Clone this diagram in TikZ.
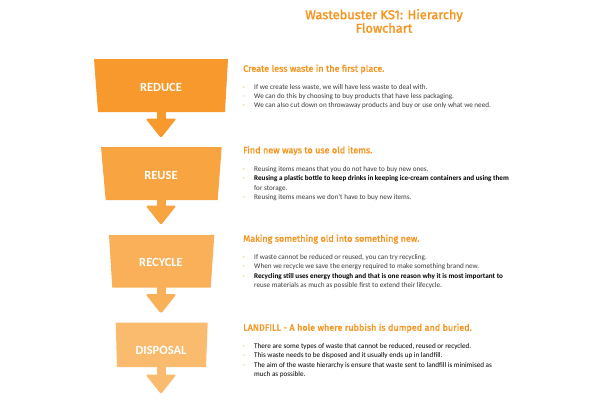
\documentclass[tikz,border=0pt]{standalone}
\usepackage{fontspec}
\setmainfont{Carlito}
\newfontfamily\headfont{Fira Sans}[FakeBold=1.5]
\definecolor{ttl}{HTML}{F7941D}
\definecolor{cA}{HTML}{F7992C}
\definecolor{cB}{HTML}{F8A441}
\definecolor{cC}{HTML}{F9B059}
\definecolor{cD}{HTML}{FABB6E}
\definecolor{txt}{HTML}{3A3A3A}
\tikzset{
  boxlabel/.style={text=white,font=\fontsize{12.5}{13}\selectfont\bfseries,inner sep=0pt},
  headline/.style={anchor=base west,inner sep=0pt,text=ttl,font=\headfont\fontsize{9.05}{10}\selectfont},
  bl/.style={anchor=base west,inner sep=0pt,text=txt,font=\fontsize{7.15}{8}\selectfont},
  bd/.style={anchor=base west,inner sep=0pt,text=ttl,font=\fontsize{7.15}{8}\selectfont},
  titletext/.style={inner sep=0pt,text=ttl,align=center,font=\headfont\fontsize{12.8}{13.5}\selectfont}
}
\newcommand\flowarrow[2]{%
  \fill[#1] (156.5,#2-1) rectangle (165.5,#2+8);
  \fill[#1,rounded corners=1.6pt] (145.5,#2+6.5) -- (176.5,#2+6.5) -- (161,#2+26) -- cycle;
}
\begin{document}
\begin{tikzpicture}[x=1pt,y=-1pt]
\useasboundingbox (0,0) rectangle (600,400);
\fill[white] (0,0) rectangle (600,400);
% title
\node[titletext] (title) at (384,21) {Wastebuster KS1: Hierarchy\\Flowchart};
% boxes
\fill[cA] (94,59) -- (228,59) -- (225,112) -- (98,112) -- cycle;
\flowarrow{cA}{112}
\fill[cB] (101,147) -- (221.7,147) -- (217.7,200) -- (105.7,200) -- cycle;
\flowarrow{cB}{199}
\fill[cC] (109,235) -- (214.3,235) -- (210.7,287.7) -- (112.3,287.7) -- cycle;
\flowarrow{cC}{287.7}
\fill[cD] (115.7,322.7) -- (207.7,322.7) -- (206,367) -- (117,367) -- cycle;
\flowarrow{cD}{368}
\node[boxlabel] (reduce) at (161,87) {REDUCE};
\node[boxlabel] (reuse) at (161,175) {REUSE};
\node[boxlabel] (recycle) at (161,262.5) {RECYCLE};
\node[boxlabel] (disposal) at (161,350.5) {DISPOSAL};
% section 1
\node[headline] (h1) at (243,71.7) {Create less waste in the first place.};
\node[bd] (d11) at (242.5,89) {-};
\node[bl] (t11) at (254,89) {If we create less waste, we will have less waste to deal with.};
\node[bd] (d12) at (242.5,98.3) {-};
\node[bl] (t12) at (254,98.3) {We can do this by choosing to buy products that have less packaging.};
\node[bd] (d13) at (242.5,107.7) {-};
\node[bl] (t13) at (254,107.7) {We can also cut down on throwaway products and buy or use only what we need.};
% section 2
\node[headline] (h2) at (243,153.3) {Find new ways to use old items.};
\node[bd] (d21) at (242.5,171.7) {-};
\node[bl] (t21) at (254,171.7) {Reusing items means that you do not have to buy new ones.};
\node[bd] (d22) at (242.5,180.7) {-};
\node[bl,text=black] (t22) at (254,180.7) {\bfseries Reusing a plastic bottle to keep drinks in keeping ice-cream containers and using them};
\node[bl] (t22b) at (254,190) {for storage.};
\node[bd] (d23) at (242.5,199.3) {-};
\node[bl] (t23) at (254,199.3) {Reusing items means we don’t have to buy new items.};
% section 3
\node[headline] (h3) at (243,241.7) {Making something old into something new.};
\node[bd] (d31) at (242.5,259.3) {-};
\node[bl] (t31) at (254,259.3) {If waste cannot be reduced or reused, you can try recycling.};
\node[bd] (d32) at (242.5,268.7) {-};
\node[bl] (t32) at (254,268.7) {When we recycle we save the energy required to make something brand new.};
\node[bd] (d33) at (242.5,278.3) {-};
\node[bl,text=black] (t33) at (254,278.3) {\bfseries Recycling still uses energy though and that is one reason why it is most important to};
\node[bl] (t33b) at (254,287.3) {reuse materials as much as possible first to extend their lifecycle.};
% section 4
\node[headline] (h4) at (243,330.7) {LANDFILL - A hole where rubbish is dumped and buried.};
\node[bd] (d41) at (242.5,348.3) {-};
\node[bl,text=black] (t41) at (254,348.3) {There are some types of waste that cannot be reduced, reused or recycled.};
\node[bd] (d42) at (242.5,357.7) {-};
\node[bl,text=black] (t42) at (254,357.7) {This waste needs to be disposed and it usually ends up in landfill.};
\node[bd] (d43) at (242.5,367) {-};
\node[bl,text=black] (t43) at (254,367) {The aim of the waste hierarchy is ensure that waste sent to landfill is minimised as};
\node[bl,text=black] (t43b) at (254,376.7) {much as possible.};
\end{tikzpicture}
\end{document}
